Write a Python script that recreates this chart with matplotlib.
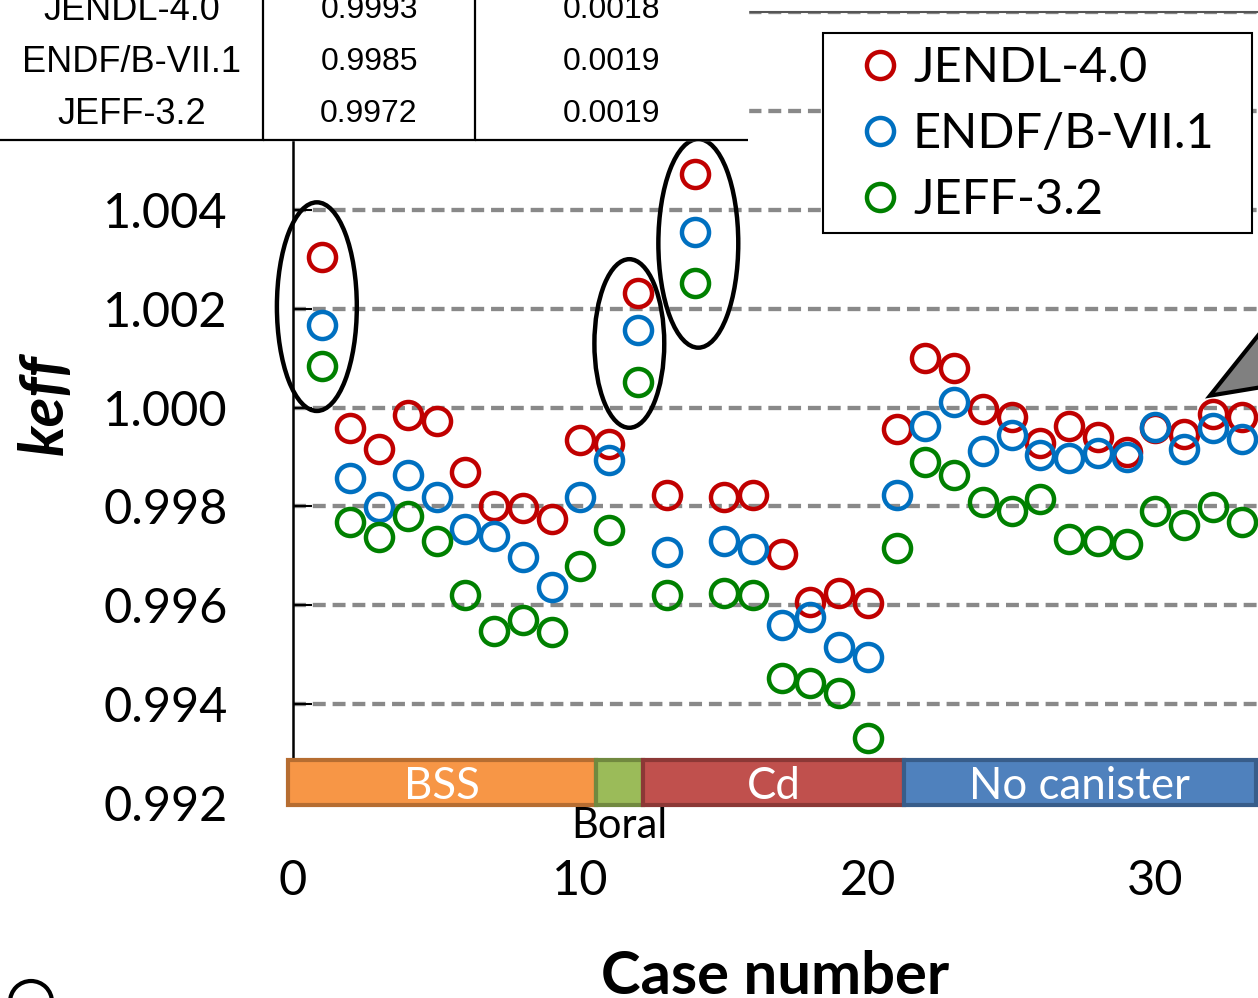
import matplotlib.pyplot as plt
from matplotlib.patches import Ellipse, Rectangle, Polygon

plt.rcParams['font.family'] = ['Lato', 'DejaVu Sans']

# keff per case for each nuclear data library
cases = list(range(1, 34))
jendl = [1.00305, 0.99958, 0.99917, 0.99984, 0.99972, 0.99869, 0.99800, 0.99796, 0.99774, 0.99935,
         0.99927, 1.00232, 0.99824, 1.00473, 0.99818, 0.99824, 0.99703, 0.99606, 0.99624, 0.99604,
         0.99956, 1.00101, 1.00079, 0.99996, 0.99980, 0.99929, 0.99962, 0.99941, 0.99909, 0.99958,
         0.99947, 0.99986, 0.99980]
endf = [1.00166, 0.99857, 0.99798, 0.99863, 0.99818, 0.99754, 0.99741, 0.99697, 0.99636, 0.99818,
        0.99893, 1.00156, 0.99707, 1.00354, 0.99729, 0.99713, 0.99560, 0.99576, 0.99515, 0.99495,
        0.99824, 0.99962, 1.00012, 0.99913, 0.99945, 0.99903, 0.99897, 0.99907, 0.99899, 0.99960,
        0.99917, 0.99958, 0.99937]
jeff = [1.00083, 0.99768, 0.99739, 0.99780, 0.99729, 0.99620, 0.99547, 0.99570, 0.99545, 0.99679,
        0.99752, 1.00051, 0.99620, 1.00251, 0.99624, 0.99620, 0.99453, 0.99442, 0.99422, 0.99331,
        0.99715, 0.99889, 0.99863, 0.99808, 0.99790, 0.99814, 0.99735, 0.99729, 0.99723, 0.99790,
        0.99762, 0.99798, 0.99768]

libraries = ['JENDL-4.0', 'ENDF/B-VII.1', 'JEFF-3.2']
lib_colors = ['#C00000', '#0070C0', '#008000']

# summary table (library, mean, std dev)
table_rows = [['JENDL-4.0', '0.9993', '0.0018'],
              ['ENDF/B-VII.1', '0.9985', '0.0019'],
              ['JEFF-3.2', '0.9972', '0.0019']]

# absorber groups along the case axis
groups = ['BSS', 'Boral', 'Cd', 'No canister']
group_edges = [-0.17, 10.54, 12.17, 21.25, 33.5]
group_face = ['#F79646', '#9BBB59', '#C0504D', '#4F81BD']
group_edge = ['#B66D31', '#71893F', '#8C3836', '#385D8A']

circled = [1, 12, 14]

fig = plt.figure(figsize=(12.58, 9.98), dpi=100)
ax = fig.add_axes([293 / 1258, 1 - 803 / 998, 1 - 293 / 1258, (803 - 12) / 998])

for vals, lab, col in zip([jendl, endf, jeff], libraries, lib_colors):
    ax.plot(cases, vals, 'o', ms=19.5, mfc='none', mec=col, mew=3.2, label=lab, zorder=4,
            clip_on=False)

ax.set_xlim(0, 33.57)
ax.set_ylim(0.992, 1.008)
ax.set_xticks([0, 10, 20, 30])
ax.set_yticks([0.992, 0.994, 0.996, 0.998, 1.000, 1.002, 1.004, 1.006, 1.008])
ax.yaxis.set_major_formatter(plt.FormatStrFormatter('%.3f'))
ax.grid(axis='y', color='#898989', lw=3.1, linestyle=(0, (3.0, 1.6)), zorder=1)
ax.set_axisbelow(True)
ax.tick_params(axis='y', direction='in', length=14, width=1.5, labelsize=35, pad=47)
ax.tick_params(axis='x', length=0, labelsize=35, pad=40)
for s in ['right', 'bottom']:
    ax.spines[s].set_visible(False)
ax.spines['left'].set_linewidth(1.8)
ax.spines['top'].set_color('#555555')
ax.spines['top'].set_linewidth(1.5)

ax.set_xlabel('Case number', fontsize=43, fontweight='bold', labelpad=34)
fig.text(45 / 1258, 1 - 405 / 998, 'keff', rotation=90, fontsize=44, fontweight='bold',
         fontstyle='italic', ha='center', va='center')

# group band below the data
for i, g in enumerate(groups):
    x0, x1 = group_edges[i], group_edges[i + 1]
    ax.add_patch(Rectangle((x0, 0.99196), x1 - x0, 0.00091, facecolor=group_face[i],
                           edgecolor=group_edge[i], lw=3, clip_on=False, zorder=6))
    if g == 'Boral':
        ax.text((x0 + x1) / 2, 0.99153, g, ha='center', va='center', fontsize=30, zorder=7)
    else:
        ax.text((x0 + x1) / 2, 0.99234, g, ha='center', va='center', fontsize=31.5,
                color='white', zorder=7, clip_on=False)

# ellipses around the high cases
ell_w = [2.78, 2.43, 2.78]
ell_pad = [0.0020, 0.0016, 0.0020]
ell_dx = [-0.17, -0.3, 0.1]
ell_dy = [0.0001, -0.00012, -0.0003]
for c, w, p, dx, dy in zip(circled, ell_w, ell_pad, ell_dx, ell_dy):
    v = [jendl[c - 1], endf[c - 1], jeff[c - 1]]
    ax.add_patch(Ellipse((c + dx, (max(v) + min(v)) / 2 + dy), w, max(v) - min(v) + p,
                         fill=False, ec='black', lw=3.2, zorder=5, clip_on=False))

# callout pointer on the right
ax.add_patch(Polygon([(31.9, 1.00024), (34.5, 1.00213), (34.5, 1.00049)], closed=True,
                     facecolor='#808080', edgecolor='black', lw=3, clip_on=False, zorder=6))

# legend box drawn separately so its size matches the original
ax.add_patch(Rectangle((823 / 1258, 1 - 233 / 998), 429 / 1258, 200 / 998,
                       transform=fig.transFigure, facecolor='white', edgecolor='black',
                       lw=1.5, clip_on=False, zorder=7))
leg = ax.legend(loc='upper left', bbox_to_anchor=(858 / 1258, 1 - 46 / 998),
                bbox_transform=fig.transFigure, fontsize=35, frameon=False,
                borderaxespad=0, borderpad=0, handlelength=0.9, handletextpad=0.23,
                labelspacing=0.45)
leg.set_zorder(8)

# summary table in the top-left corner
tax = fig.add_axes([0, 1 - 140 / 998, 748 / 1258, 140 / 998])
tax.axis('off')
tax.set_zorder(10)
tax.add_patch(Rectangle((0, 0), 1, 1.2, transform=tax.transAxes, color='white',
                        clip_on=False, zorder=0))
table = tax.table(cellText=table_rows, cellLoc='center',
                  colWidths=[263 / 748, 212 / 748, 273 / 748], bbox=[0, 0, 1, 156 / 140])
table.auto_set_font_size(False)
for (r, c), cell in table.get_celld().items():
    edges = 'R' if c < 2 else ''
    if r == len(table_rows) - 1:
        edges += 'B'
    cell.visible_edges = edges
    cell.set_linewidth(1.6)
    txt = cell.get_text()
    txt.set_fontfamily(['Liberation Sans Narrow', 'Liberation Sans'])
    txt.set_fontsize(26 if c == 0 else 23)

# partially visible circle marker in the bottom-left corner
fig.add_artist(Ellipse((31 / 1258, -4 / 998), 42 / 1258, 42 / 998, transform=fig.transFigure,
                       fill=False, ec='black', lw=3))

plt.savefig('out.png', dpi=100)
